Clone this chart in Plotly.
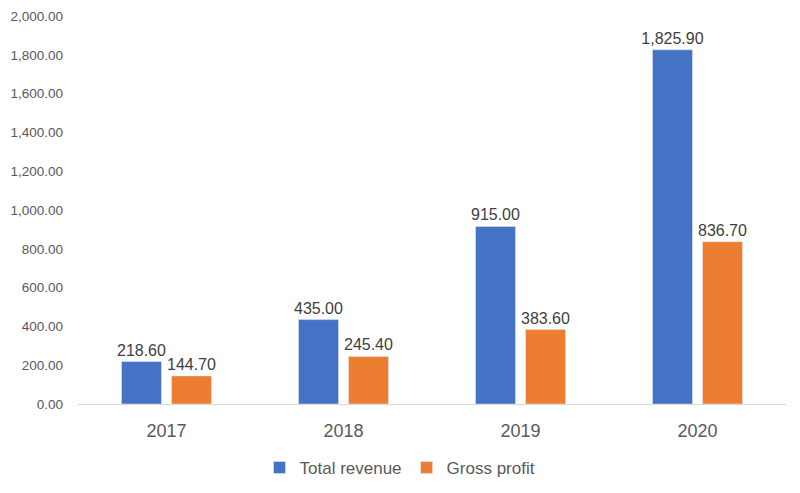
import plotly.graph_objs as go

years = ['2017', '2018', '2019', '2020']
total_revenue = [218.6, 435.0, 915.0, 1825.9]
gross_profit = [144.7, 245.4, 383.6, 836.7]

font_family = 'Liberation Sans Narrow, Liberation Sans, sans-serif'
text_color = '#404040'


def make_bar(name, values, color):
    return go.Bar(
        x=years, y=values, name=name,
        marker=dict(color=color),
        text=['{:,.2f}'.format(v) for v in values],
        textposition='outside',
        constraintext='none',
        textfont=dict(size=16, color=text_color, family=font_family),
        cliponaxis=False)


data = [make_bar('Total revenue', total_revenue, '#4472C4'),
        make_bar('Gross profit', gross_profit, '#ED7D31')]

# page body has an 8px margin, so margins are shifted to compensate
layout = go.Layout(
    width=800, height=493,
    plot_bgcolor='white', paper_bgcolor='white',
    font=dict(family=font_family, color='#595959'),
    barmode='group', bargap=0.435, bargroupgap=0.2,
    margin=dict(l=70, r=22, t=8, b=97),
    xaxis=dict(showgrid=False, showline=True, linecolor='#D9D9D9',
               linewidth=1, ticks='', automargin=False,
               ticklabelstandoff=10,
               tickfont=dict(size=18, color='#595959')),
    yaxis=dict(range=[0, 2000], dtick=200, tickformat=',.2f',
               showgrid=False, zeroline=False, showline=False,
               automargin=False, ticklabelstandoff=14,
               ticklabeloverflow='allow',
               tickfont=dict(size=13.5, color='#595959')),
    legend=dict(orientation='h', xref='container', x=0.49, xanchor='center',
                yref='container', y=0.067, yanchor='middle',
                font=dict(size=17, color='#595959')),
    showlegend=True)

fig = go.Figure(data=data, layout=layout)
fig.write_html('out.html')
